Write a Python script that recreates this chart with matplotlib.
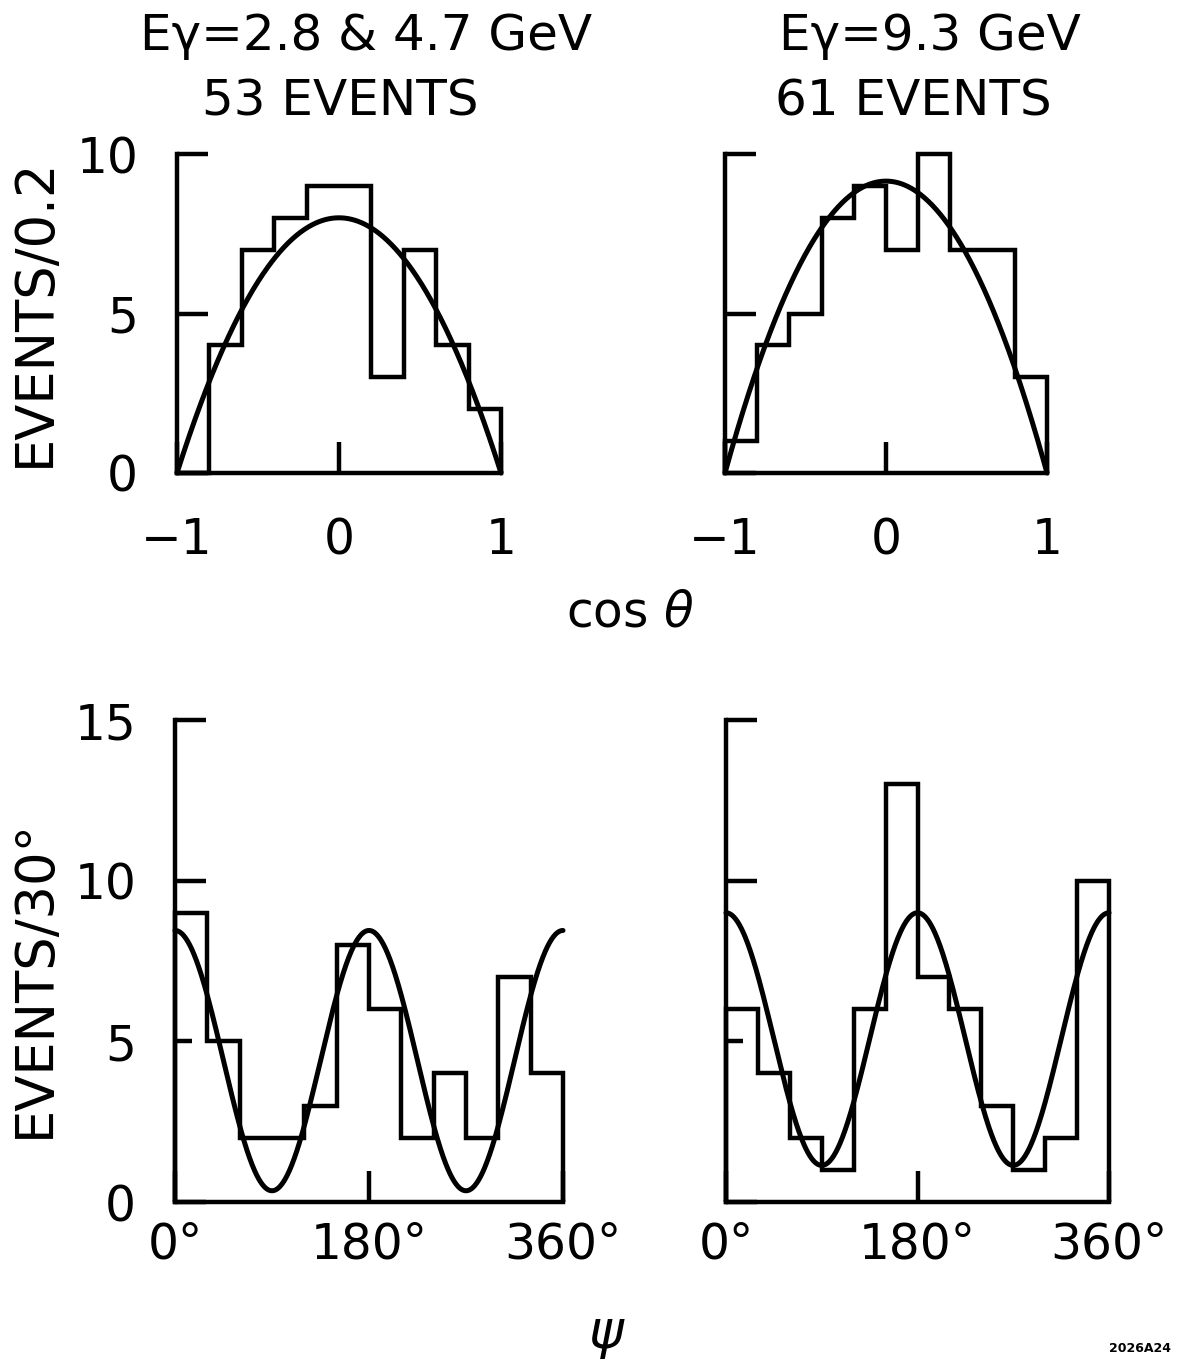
import numpy as np
import matplotlib
matplotlib.use("Agg")
import matplotlib.pyplot as plt

# ---------------- data ----------------
cos_edges = [-1.0, -0.8, -0.6, -0.4, -0.2, 0.0, 0.2, 0.4, 0.6, 0.8, 1.0]
cos_counts_low = [0, 4, 7, 8, 9, 9, 3, 7, 4, 2]      # E_gamma = 2.8 & 4.7 GeV
cos_counts_high = [1, 4, 5, 8, 9, 7, 10, 7, 7, 3]    # E_gamma = 9.3 GeV

psi_edges = [0, 30, 60, 90, 120, 150, 180, 210, 240, 270, 300, 330, 360]
psi_counts_low = [9, 5, 2, 2, 3, 8, 6, 2, 4, 2, 7, 4]
psi_counts_high = [6, 4, 2, 1, 6, 13, 7, 6, 3, 1, 2, 10]

# fitted curves: cos-theta fit  A*(1-x^2);  psi fit  C + D*cos(2 psi)
cos_fit_amp = [8.0, 9.15]
psi_fit_const = [4.4, 5.07]
psi_fit_mod = [4.05, 3.93]

title_energy = ["E\u03b3=2.8 & 4.7 GeV", "E\u03b3=9.3 GeV"]
title_events = ["53 EVENTS", "61 EVENTS"]
cos_ticks = [-1, 0, 1]
cos_ticklabels = ["\u22121", "0", "1"]
cos_yticks = [0, 5, 10]
psi_ticks = [0, 180, 360]
psi_ticklabels = ["0\u00b0", "180\u00b0", "360\u00b0"]
psi_yticks_major = [0, 10, 15]
psi_yticks_minor = [5]

# ---------------- figure ----------------
W, H = 1181, 1364
plt.rcParams['font.family'] = ['DejaVu Sans']
fig = plt.figure(figsize=(W / 100, H / 100), dpi=100)

LW = 3.2
CLW = 3.6
FS = 35


def px_axes(x0, x1, y_top, y_bot):
    return fig.add_axes([x0 / W, 1 - y_bot / H, (x1 - x0) / W, (y_bot - y_top) / H])


def style(ax):
    for s in ("top", "right"):
        ax.spines[s].set_visible(False)
    for s in ("left", "bottom"):
        ax.spines[s].set_linewidth(LW)
        ax.spines[s].set_capstyle("projecting")
    ax.tick_params(which="both", direction="in", width=LW, colors="black",
                   labelsize=FS)


cos_boxes = [(177, 501, 154, 473), (725, 1047, 154, 473)]
psi_boxes = [(175, 563, 720, 1202), (726, 1109, 720, 1202)]
cos_sets = [cos_counts_low, cos_counts_high]
psi_sets = [psi_counts_low, psi_counts_high]

for i in range(2):
    # ---- cos theta panel ----
    ax = px_axes(*cos_boxes[i])
    style(ax)
    ax.set_xlim(-1, 1)
    ax.set_ylim(0, 10)
    ax.stairs(cos_sets[i], cos_edges, baseline=0, fill=False,
              color="black", linewidth=LW, clip_on=False)
    xx = np.linspace(-1, 1, 400)
    ax.plot(xx, cos_fit_amp[i] * (1 - xx ** 2), color="black",
            linewidth=CLW, clip_on=False, solid_capstyle="round")
    ax.set_xticks(cos_ticks, cos_ticklabels)
    ax.tick_params(axis="x", length=22, pad=31)
    if i == 0:
        ax.set_yticks(cos_yticks, [str(v) for v in cos_yticks])
        ax.tick_params(axis="y", length=22, pad=28)
    else:
        ax.set_yticks(cos_yticks, ["", "", ""])
        ax.tick_params(axis="y", length=22)

    # ---- psi panel ----
    ax = px_axes(*psi_boxes[i])
    style(ax)
    ax.set_xlim(0, 360)
    ax.set_ylim(0, 15)
    ax.stairs(psi_sets[i], psi_edges, baseline=0, fill=False,
              color="black", linewidth=LW, clip_on=False)
    pp = np.linspace(0, 360, 600)
    ax.plot(pp, psi_fit_const[i] + psi_fit_mod[i] * np.cos(np.radians(2 * pp)),
            color="black", linewidth=CLW, clip_on=False, solid_capstyle="round")
    ax.set_xticks(psi_ticks, psi_ticklabels)
    ax.tick_params(axis="x", length=22, pad=13)
    if i == 0:
        ax.set_yticks(psi_yticks_major, [str(v) for v in psi_yticks_major])
        ax.set_yticks(psi_yticks_minor, [str(v) for v in psi_yticks_minor], minor=True)
        ax.tick_params(axis="y", which="major", length=22, pad=28)
        ax.tick_params(axis="y", which="minor", length=12, pad=28, labelsize=FS)
    else:
        ax.set_yticks(psi_yticks_major, ["", "", ""])
        ax.set_yticks(psi_yticks_minor, [""], minor=True)
        ax.tick_params(axis="y", which="major", length=22)
        ax.tick_params(axis="y", which="minor", length=12)


def ftext(x, y, s, **kw):
    fig.text(x / W, 1 - y / H, s, ha="center", va="center", **kw)


ftext(366, 36, title_energy[0], fontsize=36)
ftext(340, 101, title_events[0], fontsize=36)
ftext(930, 36, title_energy[1], fontsize=36)
ftext(913, 101, title_events[1], fontsize=36)
ftext(35, 312, "EVENTS/0.2", fontsize=38, rotation=90)
ftext(35, 978, "EVENTS/30\u00b0", fontsize=38, rotation=90)
ftext(630, 612, "cos $\\theta$", fontsize=35)
ftext(607, 1335, "$\\psi$", fontsize=38)
ftext(1140, 1349, "2026A24", fontsize=9, fontweight="bold")

fig.savefig("out.png", dpi=100, facecolor="white")
